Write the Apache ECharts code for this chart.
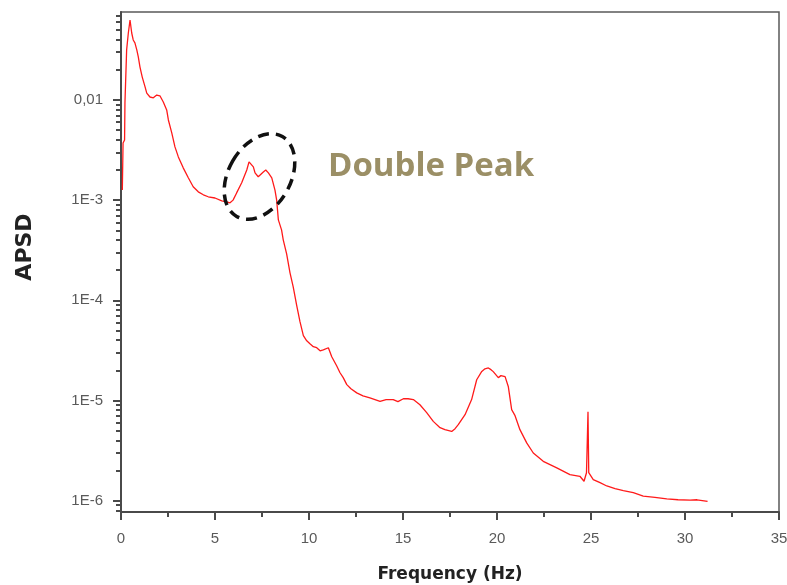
<!DOCTYPE html>
<html><head><meta charset="utf-8">
<script src="https://cdn.jsdelivr.net/npm/echarts@6/dist/echarts.min.js"></script>
<style>html,body{margin:0;padding:0;background:#fff}#c{width:787px;height:585px}</style>
</head><body><div id="c"></div>
<script>
const freq = [0.07,0.11,0.19,0.21,0.30,0.39,0.48,0.57,0.65,0.74,
  0.84,0.92,1.01,1.13,1.28,1.37,1.54,1.72,1.81,1.90,
  2.07,2.25,2.43,2.52,2.70,2.87,3.05,3.31,3.58,3.84,
  4.11,4.38,4.64,5.00,5.36,5.62,5.80,5.96,6.15,6.42,
  6.69,6.81,6.89,7.04,7.13,7.30,7.39,7.57,7.70,7.84,
  8.02,8.19,8.28,8.37,8.54,8.63,8.81,8.99,9.16,9.35,
  9.52,9.70,9.88,10.05,10.23,10.41,10.59,10.76,11.03,11.21,
  11.47,11.65,11.82,12.01,12.23,12.54,12.87,13.24,13.78,14.10,
  14.48,14.73,15.02,15.27,15.55,15.90,16.26,16.61,16.97,17.23,
  17.59,17.77,17.94,18.30,18.65,18.92,19.19,19.36,19.54,19.68,
  19.80,20.07,20.21,20.43,20.60,20.78,20.96,21.22,21.58,21.93,
  22.46,23.18,23.88,24.41,24.63,24.76,24.80,24.84,24.88,25.12,
  25.48,25.84,26.28,26.72,27.25,27.78,28.40,29.03,29.63,30.27,
  30.64,31.20];
const apsd = [1.26e-3,3.72e-3,3.99e-3,9.33e-3,3.16e-2,4.66e-2,6.28e-2,4.66e-2,3.97e-2,3.71e-2,
  3.16e-2,2.69e-2,2.13e-2,1.69e-2,1.35e-2,1.17e-2,1.07e-2,1.05e-2,1.07e-2,1.12e-2,
  1.10e-2,9.55e-3,7.94e-3,6.31e-3,4.69e-3,3.40e-3,2.70e-3,2.10e-3,1.67e-3,1.36e-3,
  1.21e-3,1.13e-3,1.08e-3,1.05e-3,9.84e-4,9.61e-4,9.39e-4,1.00e-3,1.18e-3,1.49e-3,
  2.00e-3,2.41e-3,2.43e-3,2.15e-3,1.87e-3,1.71e-3,1.67e-3,1.91e-3,2.00e-3,1.87e-3,
  1.67e-3,1.26e-3,1.00e-3,6.35e-4,5.05e-4,4.01e-4,2.91e-4,1.88e-4,1.36e-4,8.81e-5,
  6.11e-5,4.43e-5,3.94e-5,3.68e-5,3.44e-5,3.36e-5,3.13e-5,3.20e-5,3.36e-5,2.73e-5,
  2.22e-5,1.89e-5,1.69e-5,1.44e-5,1.31e-5,1.19e-5,1.11e-5,1.06e-5,9.78e-6,1.02e-5,
  1.02e-5,9.72e-6,1.04e-5,1.04e-5,1.02e-5,9.07e-6,7.55e-6,6.18e-6,5.35e-6,5.11e-6,
  4.91e-6,5.23e-6,5.73e-6,7.21e-6,1.02e-5,1.61e-5,1.95e-5,2.07e-5,2.11e-5,2.03e-5,
  1.94e-5,1.69e-5,1.77e-5,1.73e-5,1.38e-5,8.09e-6,7.05e-6,5.11e-6,3.77e-6,2.99e-6,
  2.47e-6,2.12e-6,1.82e-6,1.75e-6,1.56e-6,1.90e-6,3.79e-6,7.72e-6,1.90e-6,1.62e-6,
  1.51e-6,1.40e-6,1.32e-6,1.26e-6,1.20e-6,1.11e-6,1.08e-6,1.04e-6,1.02e-6,1.01e-6,
  1.02e-6,9.84e-7];

const yTickValues = [1e-6, 1e-5, 1e-4, 1e-3, 1e-2];
const yTickLabels = ['1E-6', '1E-5', '1E-4', '1E-3', '0,01'];
const yMinorTickValues = [8e-7,9e-7,
  2e-6,3e-6,4e-6,5e-6,6e-6,7e-6,8e-6,9e-6,
  2e-5,3e-5,4e-5,5e-5,6e-5,7e-5,8e-5,9e-5,
  2e-4,3e-4,4e-4,5e-4,6e-4,7e-4,8e-4,9e-4,
  2e-3,3e-3,4e-3,5e-3,6e-3,7e-3,8e-3,9e-3,
  2e-2,3e-2,4e-2,5e-2,6e-2,7e-2];
const yMin = 7.7e-7, yMax = 0.0755;
const xMin = 0, xMax = 35, xStep = 5;
const xTitle = 'Frequency (Hz)';
const yTitle = 'APSD';
const noteText = 'Double Peak';

const chart = echarts.init(document.getElementById('c'), null, {renderer: 'canvas'});
const axisColor = '#4a4a4a';
const labelStyle = {color: '#5a5a5a', fontSize: 15, fontFamily: 'Liberation Sans, Arial, sans-serif'};

chart.setOption({
  animation: false,
  backgroundColor: '#ffffff',
  grid: {left: 121, right: 8, top: 12, bottom: 73, containLabel: false, outerBoundsMode: 'none',
         show: true, borderColor: '#5a5a5a', borderWidth: 1.5, backgroundColor: 'transparent'},
  xAxis: {
    type: 'value', min: xMin, max: xMax, interval: xStep,
    name: xTitle, nameLocation: 'middle', nameGap: 54,
    nameTextStyle: {color: '#222', fontSize: 17, fontWeight: 'bold', fontFamily: 'DejaVu Sans, sans-serif'},
    axisLine: {show: true, lineStyle: {color: axisColor, width: 2}},
    axisTick: {show: true, length: 8, lineStyle: {color: axisColor, width: 2}},
    minorTick: {show: true, splitNumber: 2, length: 5, lineStyle: {color: axisColor, width: 2}},
    axisLabel: Object.assign({margin: 19}, labelStyle),
    splitLine: {show: false}
  },
  yAxis: [{
    type: 'log', logBase: 10, min: yMin, max: yMax,
    name: yTitle, nameLocation: 'middle', nameGap: 85, nameRotate: 90,
    nameTextStyle: {color: '#222', fontSize: 22, fontWeight: 'bold', fontFamily: 'DejaVu Sans, sans-serif', padding: [0, 0, 0, 30]},
    axisLine: {show: true, lineStyle: {color: axisColor, width: 2}},
    axisTick: {show: true, length: 8, customValues: yTickValues, lineStyle: {color: axisColor, width: 2}},
    axisLabel: Object.assign({margin: 18, customValues: yTickValues,
      formatter: function (v) {
        for (let i = 0; i < yTickValues.length; i++) {
          if (Math.abs(Math.log10(v) - Math.log10(yTickValues[i])) < 0.01) return yTickLabels[i];
        }
        return '';
      }}, labelStyle),
    splitLine: {show: false}
  }, {
    type: 'log', logBase: 10, min: yMin, max: yMax, position: 'left', offset: 0,
    axisLine: {show: false},
    axisTick: {show: true, length: 5, customValues: yMinorTickValues, lineStyle: {color: axisColor, width: 2}},
    axisLabel: {show: false},
    splitLine: {show: false}
  }],
  series: [{
    type: 'line', yAxisIndex: 0,
    data: freq.map((f, i) => [f, apsd[i]]),
    showSymbol: false, symbol: 'none',
    lineStyle: {color: '#ff1a1a', width: 1.3},
    clip: true
  }],
  graphic: [{
    type: 'ellipse', x: 259.5, y: 176.5, rotation: -0.52, z: 100,
    shape: {cx: 0, cy: 0, rx: 31, ry: 46},
    style: {fill: 'none', stroke: '#111', lineWidth: 3.5, lineDash: [11, 7]}
  }, {
    type: 'text', left: 328, top: 150, z: 100,
    style: {text: noteText, fill: '#9b8f66', font: 'bold 33px "Open Sans", sans-serif',
            shadowColor: 'rgba(90,90,90,0.55)', shadowOffsetX: 2, shadowOffsetY: 2, shadowBlur: 2}
  }]
});
</script>
</body></html>
